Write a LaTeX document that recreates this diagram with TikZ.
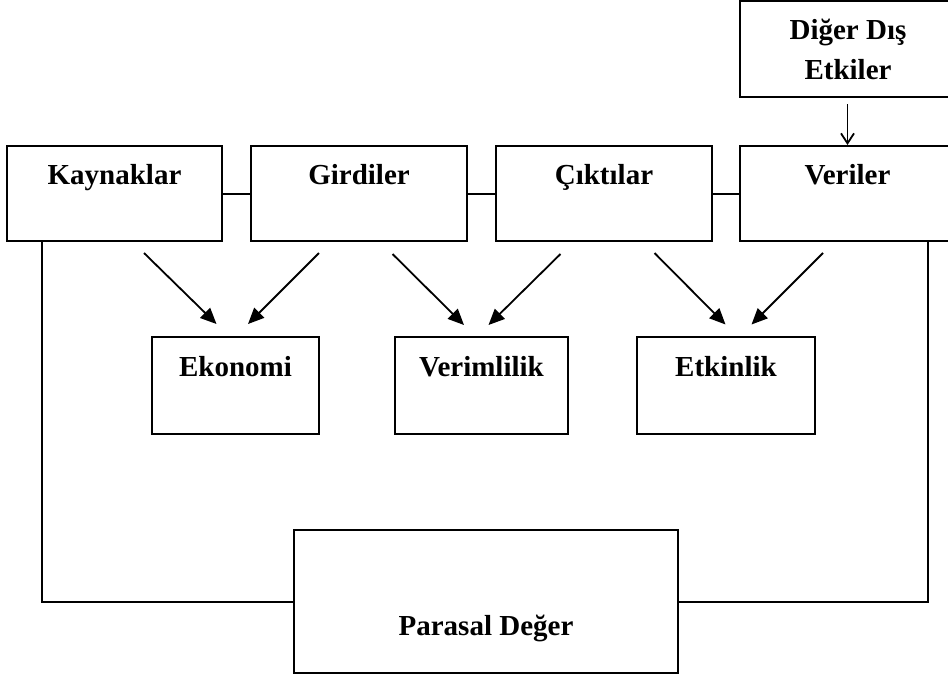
\documentclass[tikz,border=0pt]{standalone}
\usepackage{fontspec}
\setmainfont{Liberation Serif}
\usetikzlibrary{arrows.meta}
\tikzset{
  box/.style={draw, line width=2pt, rectangle, inner sep=0pt},
  lbl/.style={font=\fontsize{29}{40}\selectfont\bfseries, inner sep=0pt, anchor=base, align=center},
  link/.style={line width=2pt},
  diag/.style={line width=1.8pt, -{Triangle[length=16pt,width=14pt]}},
  down/.style={line width=1.8pt, -{Straight Barb[length=10pt,width=13pt,line width=1.8pt]}}
}
\begin{document}
\begin{tikzpicture}[x=1pt,y=-1pt]
\useasboundingbox (0,0) rectangle (948,681);
% boxes
\node[box, minimum width=215pt, minimum height=96pt] (dig) at (847.5,49) {};
\node[box, minimum width=215pt, minimum height=95pt] (kay) at (114.5,193.5) {};
\node[box, minimum width=216pt, minimum height=95pt] (gir) at (359,193.5) {};
\node[box, minimum width=216pt, minimum height=95pt] (cik) at (604,193.5) {};
\node[box, minimum width=215pt, minimum height=95pt] (ver) at (847.5,193.5) {};
\node[box, minimum width=167pt, minimum height=97pt] (eko) at (235.5,385.5) {};
\node[box, minimum width=173pt, minimum height=97pt] (vrm) at (481.5,385.5) {};
\node[box, minimum width=178pt, minimum height=97pt] (etk) at (726,385.5) {};
\node[box, minimum width=384pt, minimum height=143pt] (par) at (486,601.5) {};
% labels
\node[lbl] (digt) at (848,79) {Diğer Dış\\Etkiler};
\node[lbl] (kayt) at (114.5,184) {Kaynaklar};
\node[lbl] (girt) at (359,184) {Girdiler};
\node[lbl] (cikt) at (604,184) {Çıktılar};
\node[lbl] (vert) at (847.5,184) {Veriler};
\node[lbl] (ekot) at (235.5,376) {Ekonomi};
\node[lbl] (vrmt) at (481.5,376) {Verimlilik};
\node[lbl] (etkt) at (726,376) {Etkinlik};
\node[lbl] (part) at (486,635) {Parasal Değer};
% horizontal links
\draw[link] (kay.east) -- (gir.west);
\draw[link] (gir.east) -- (cik.west);
\draw[link] (cik.east) -- (ver.west);
% external arrow
\draw[down, shorten <=6pt] (dig.south) -- (ver.north);
% diagonal arrows
\coordinate (s1) at (144,253); \coordinate (e1) at (216.5,324);
\coordinate (s2) at (319,253); \coordinate (e2) at (248,324);
\coordinate (s3) at (392.5,254); \coordinate (e3) at (464,325);
\coordinate (s4) at (560.5,254); \coordinate (e4) at (488.5,325);
\coordinate (s5) at (654.5,253); \coordinate (e5) at (725.5,324.5);
\coordinate (s6) at (823,253); \coordinate (e6) at (751.5,324.5);
\draw[diag] (s1) -- (e1);
\draw[diag] (s2) -- (e2);
\draw[diag] (s3) -- (e3);
\draw[diag] (s4) -- (e4);
\draw[diag] (s5) -- (e5);
\draw[diag] (s6) -- (e6);
% feedback lines
\coordinate (fl) at (42,0);
\coordinate (fr) at (928,0);
\draw[link] (kay.south -| fl) |- (par.west);
\draw[link] (ver.south -| fr) |- (par.east);
\end{tikzpicture}
\end{document}
